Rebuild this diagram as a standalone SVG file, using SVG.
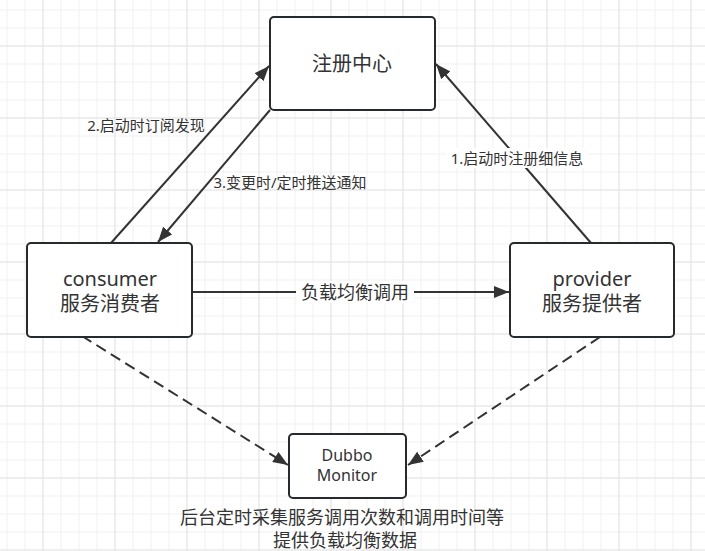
<svg xmlns="http://www.w3.org/2000/svg" width="705" height="551" viewBox="0 0 705 551">
<style>
.node{fill:#ffffff;stroke:#262a2e;stroke-width:2}
.t{font-family:"Noto Sans","Noto Sans CJK SC",sans-serif;fill:#333333;text-anchor:middle;dominant-baseline:central}
.edge{fill:none;stroke:#333333;stroke-width:2}
.dash{stroke-dasharray:11 6}
</style>
<defs>
<pattern id="minor" patternUnits="userSpaceOnUse" x="6.5" y="9.5" width="18" height="18">
<path d="M0.5 0V18M0 0.5H18" stroke="#f0f0f0" stroke-width="1" fill="none"/>
</pattern>
<pattern id="major" patternUnits="userSpaceOnUse" x="42.5" y="45.5" width="72" height="72">
<path d="M0.5 0V72M0 0.5H72" stroke="#e3e3e3" stroke-width="1" fill="none"/>
</pattern>
<marker id="arr" markerUnits="userSpaceOnUse" markerWidth="16" markerHeight="12" refX="15" refY="6" orient="auto">
<path d="M0 0L15 6L0 12Z" fill="#333333"/>
</marker>
</defs>
<rect width="705" height="551" fill="#ffffff"/>
<rect width="705" height="551" fill="url(#minor)"/>
<rect width="705" height="551" fill="url(#major)"/>
<g id="connectors">
<path class="edge" d="M591 243L436 64" marker-end="url(#arr)"/>
<path class="edge" d="M111 243L269 66" marker-end="url(#arr)"/>
<path class="edge" d="M270 110L158 242" marker-end="url(#arr)"/>
<path class="edge" d="M192 292L509 292" marker-end="url(#arr)"/>
<path class="edge dash" d="M82 336L288 465" marker-end="url(#arr)"/>
<path class="edge dash" d="M600 337L408 465" marker-end="url(#arr)"/>
<rect x="446" y="148" width="142" height="20" fill="#ffffff"/>
<text class="t" x="517" y="158" font-size="15">1.启动时注册细信息</text>
<text class="t" x="146" y="125" font-size="15">2.启动时订阅发现</text>
<text class="t" x="290" y="182" font-size="15">3.变更时/定时推送通知</text>
<rect x="296" y="281" width="118" height="22" fill="#ffffff"/>
<text class="t" x="355" y="292" font-size="18">负载均衡调用</text>
</g>
<g id="registry">
<rect class="node" x="270" y="17" width="165" height="93" rx="4"/>
<text class="t" x="352" y="63" font-size="20">注册中心</text>
</g>
<g id="consumer">
<rect class="node" x="27" y="243" width="165" height="94" rx="4"/>
<text class="t" x="110" y="278" font-size="20">consumer</text>
<text class="t" x="110" y="303" font-size="20">服务消费者</text>
</g>
<g id="provider">
<rect class="node" x="510" y="243" width="164" height="94" rx="4"/>
<text class="t" x="592" y="278" font-size="20">provider</text>
<text class="t" x="592" y="303" font-size="20">服务提供者</text>
</g>
<g id="monitor">
<rect class="node" x="289" y="434" width="117" height="64" rx="4"/>
<text class="t" x="347" y="455" font-size="16">Dubbo</text>
<text class="t" x="347" y="475" font-size="16">Monitor</text>
</g>
<g id="note">
<text class="t" x="342" y="517" font-size="18">后台定时采集服务调用次数和调用时间等</text>
<text class="t" x="345" y="540" font-size="18">提供负载均衡数据</text>
</g>
</svg>
